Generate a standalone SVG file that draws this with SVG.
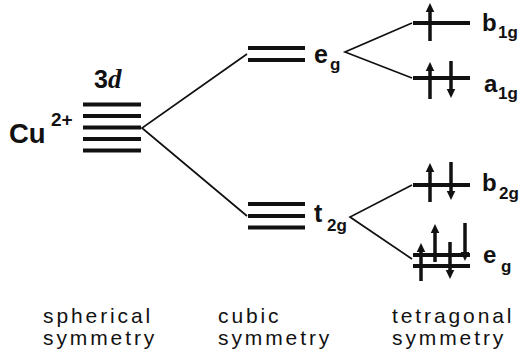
<svg xmlns="http://www.w3.org/2000/svg" width="520" height="361" viewBox="0 0 520 361">
  <style>
    .lvl { stroke: #111; stroke-width: 4; fill: none; }
    .conn { stroke: #111; stroke-width: 1.7; fill: none; }
    .spin { stroke: #111; stroke-width: 3.5; fill: none; marker-end: url(#head); }
    .lab { font-family: "Liberation Sans", Arial, sans-serif; font-weight: bold; fill: #111; }
    .sym { font-family: "Liberation Sans", Arial, sans-serif; font-size: 21px; letter-spacing: 2.9px; fill: #111; }
  </style>
  <defs>
    <marker id="head" viewBox="0 0 10 11" refX="0" refY="5.5" markerUnits="userSpaceOnUse" markerWidth="11" markerHeight="10" orient="auto">
      <path d="M0,0.8 L10,5.5 L0,10.2 z" fill="#111"/>
    </marker>
  </defs>

  <!-- connectors between levels -->
  <g id="connectors">
    <path class="conn" d="M247,54 L142,128 L247,216"/>
    <path class="conn" d="M412,23 L345,52 L412,78"/>
    <path class="conn" d="M412,185 L350,217 L412,259"/>
  </g>

  <!-- free ion: five degenerate 3d levels -->
  <g id="free-ion">
    <text class="lab" x="9" y="143" font-size="27.5">Cu</text>
    <text class="lab" x="51" y="126" font-size="19">2+</text>
    <text x="94" y="88"><tspan class="lab" font-size="25">3</tspan><tspan font-family="'Liberation Serif', 'Times New Roman', serif" font-weight="bold" font-style="italic" font-size="27" fill="#111">d</tspan></text>
    <path class="lvl" d="M83,104.5 H141 M83,116 H141 M83,127.5 H141 M83,139 H141 M83,150.5 H141"/>
  </g>

  <!-- cubic field: eg doublet -->
  <g id="cubic-eg">
    <path class="lvl" d="M248,48 H305 M248,60 H305"/>
    <text class="lab" x="314" y="63" font-size="25">e</text>
    <text class="lab" x="330" y="70" font-size="17">g</text>
  </g>

  <!-- cubic field: t2g triplet -->
  <g id="cubic-t2g">
    <path class="lvl" d="M248,204 H305 M248,216 H305 M248,227.5 H305"/>
    <text class="lab" x="314" y="222" font-size="25">t</text>
    <text class="lab" x="327" y="231" font-size="17">2g</text>
  </g>

  <!-- tetragonal: b1g -->
  <g id="tetra-b1g">
    <path class="lvl" d="M413,23 H470"/>
    <path class="spin" d="M430,41 V12"/>
    <text class="lab" x="482" y="31" font-size="24">b</text>
    <text class="lab" x="498" y="38" font-size="17">1g</text>
  </g>

  <!-- tetragonal: a1g -->
  <g id="tetra-a1g">
    <path class="lvl" d="M413,78 H470"/>
    <path class="spin" d="M430,99 V71"/>
    <path class="spin" d="M451,61 V89"/>
    <text class="lab" x="484" y="92" font-size="24">a</text>
    <text class="lab" x="498" y="99" font-size="17">1g</text>
  </g>

  <!-- tetragonal: b2g -->
  <g id="tetra-b2g">
    <path class="lvl" d="M413,185 H470"/>
    <path class="spin" d="M430,202 V172"/>
    <path class="spin" d="M451,162 V191"/>
    <text class="lab" x="482" y="191" font-size="24">b</text>
    <text class="lab" x="499" y="199" font-size="17">2g</text>
  </g>

  <!-- tetragonal: eg -->
  <g id="tetra-eg">
    <path class="lvl" d="M413,255 H470 M413,266 H470"/>
    <path class="spin" d="M421,281 V252"/>
    <path class="spin" d="M435,262 V233"/>
    <path class="spin" d="M450,242 V270"/>
    <path class="spin" d="M465,223 V252"/>
    <text class="lab" x="483" y="263" font-size="24">e</text>
    <text class="lab" x="501" y="272" font-size="17">g</text>
  </g>

  <!-- symmetry captions -->
  <g id="captions">
    <text class="sym" x="43" y="323">spherical</text>
    <text class="sym" x="43" y="345">symmetry</text>
    <text class="sym" x="218" y="323">cubic</text>
    <text class="sym" x="218" y="345">symmetry</text>
    <text class="sym" x="392" y="323">tetragonal</text>
    <text class="sym" x="392" y="345">symmetry</text>
  </g>
</svg>
